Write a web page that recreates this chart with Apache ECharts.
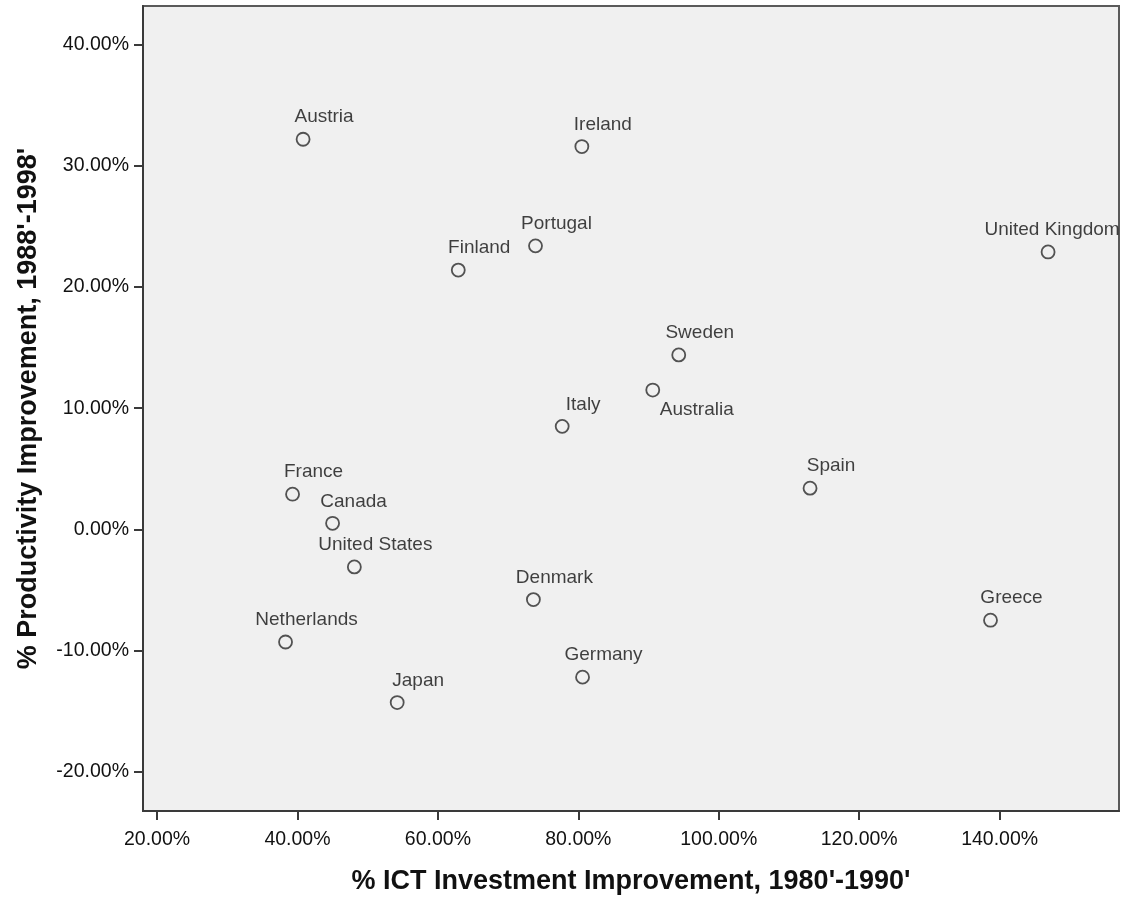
<!DOCTYPE html>
<html>
<head>
<meta charset="utf-8">
<script src="https://cdn.jsdelivr.net/npm/echarts@6/dist/echarts.min.js"></script>
<style>
  html, body { margin: 0; padding: 0; background: #ffffff; }
  #container { width: 1127px; height: 898px; }
</style>
</head>
<body>
<div id="container"></div>
<script>
// countries and their values (percent)
const countries = ['Austria', 'Ireland', 'Portugal', 'Finland', 'United Kingdom', 'Sweden',
  'Australia', 'Italy', 'Spain', 'France', 'Canada', 'United States', 'Denmark',
  'Greece', 'Netherlands', 'Germany', 'Japan']
const ictImprovement = [40.8, 80.5, 73.9, 62.9, 146.9, 94.3,
  90.6, 77.7, 113.0, 39.3, 45.0, 48.1, 73.6,
  138.7, 38.3, 80.6, 54.2]
const productivityImprovement = [32.2, 31.6, 23.4, 21.4, 22.9, 14.4,
  11.5, 8.5, 3.4, 2.9, 0.5, -3.1, -5.8,
  -7.5, -9.3, -12.2, -14.3]
const xTicks = [20, 40, 60, 80, 100, 120, 140]
const yTicks = [-20, -10, 0, 10, 20, 30, 40]

const fontFamily = '"Liberation Sans", Arial, sans-serif'
const textColor = '#111111'

const points = countries.map((name, i) => {
  const item = { name: name, value: [ictImprovement[i], productivityImprovement[i]] }
  // Australia label sits below-right of its point
  if (name === 'Australia') {
    item.label = { offset: [44, 20] }
  }
  // United Kingdom label pulled left to stay inside the frame
  if (name === 'United Kingdom') {
    item.label = { offset: [4, -22] }
  }
  return item
})

const option = {
  backgroundColor: '#ffffff',
  animation: false,
  grid: {
    left: 143,
    top: 6,
    right: 8,
    bottom: 87,
    outerBoundsMode: 'none',
    show: true,
    backgroundColor: '#f0f0f0',
    borderColor: '#5a5a5a',
    borderWidth: 2
  },
  xAxis: {
    type: 'value',
    min: 18,
    max: 157,
    name: "% ICT Investment Improvement, 1980'-1990'",
    nameLocation: 'middle',
    nameGap: 57,
    nameMoveOverlap: false,
    nameTextStyle: {
      fontFamily: fontFamily,
      fontSize: 27,
      fontWeight: 'bold',
      color: textColor
    },
    axisLine: { show: true, onZero: false, lineStyle: { color: '#3a3a3a', width: 2 } },
    axisTick: { show: true, length: 9, customValues: xTicks, lineStyle: { color: '#3a3a3a', width: 2 } },
    axisLabel: {
      customValues: xTicks,
      margin: 19,
      fontFamily: fontFamily,
      fontSize: 19.5,
      color: textColor,
      formatter: function (v) { return v.toFixed(2) + '%' }
    },
    splitLine: { show: false }
  },
  yAxis: {
    type: 'value',
    min: -23.25,
    max: 43.2,
    name: "% Productivity Improvement, 1988'-1998'",
    nameLocation: 'middle',
    nameGap: 101,
    nameMoveOverlap: false,
    nameTextStyle: {
      fontFamily: fontFamily,
      fontSize: 27,
      fontWeight: 'bold',
      color: textColor
    },
    axisLine: { show: true, onZero: false, lineStyle: { color: '#3a3a3a', width: 2 } },
    axisTick: { show: true, length: 9, customValues: yTicks, lineStyle: { color: '#3a3a3a', width: 2 } },
    axisLabel: {
      customValues: yTicks,
      margin: 14,
      fontFamily: fontFamily,
      fontSize: 19.5,
      color: textColor,
      formatter: function (v) { return v.toFixed(2) + '%' }
    },
    splitLine: { show: false }
  },
  series: [
    {
      type: 'scatter',
      data: points,
      symbol: 'circle',
      symbolSize: 13,
      itemStyle: {
        color: 'rgba(0,0,0,0)',
        borderColor: '#2a2a2a',
        borderWidth: 1.8
      },
      label: {
        show: true,
        position: 'inside',
        offset: [21, -22],
        formatter: '{b}',
        fontFamily: fontFamily,
        fontSize: 19,
        color: textColor
      },
      emphasis: { disabled: true }
    }
  ]
}

const myChart = echarts.init(document.getElementById('container'))
myChart.setOption(option)
</script>
</body>
</html>
